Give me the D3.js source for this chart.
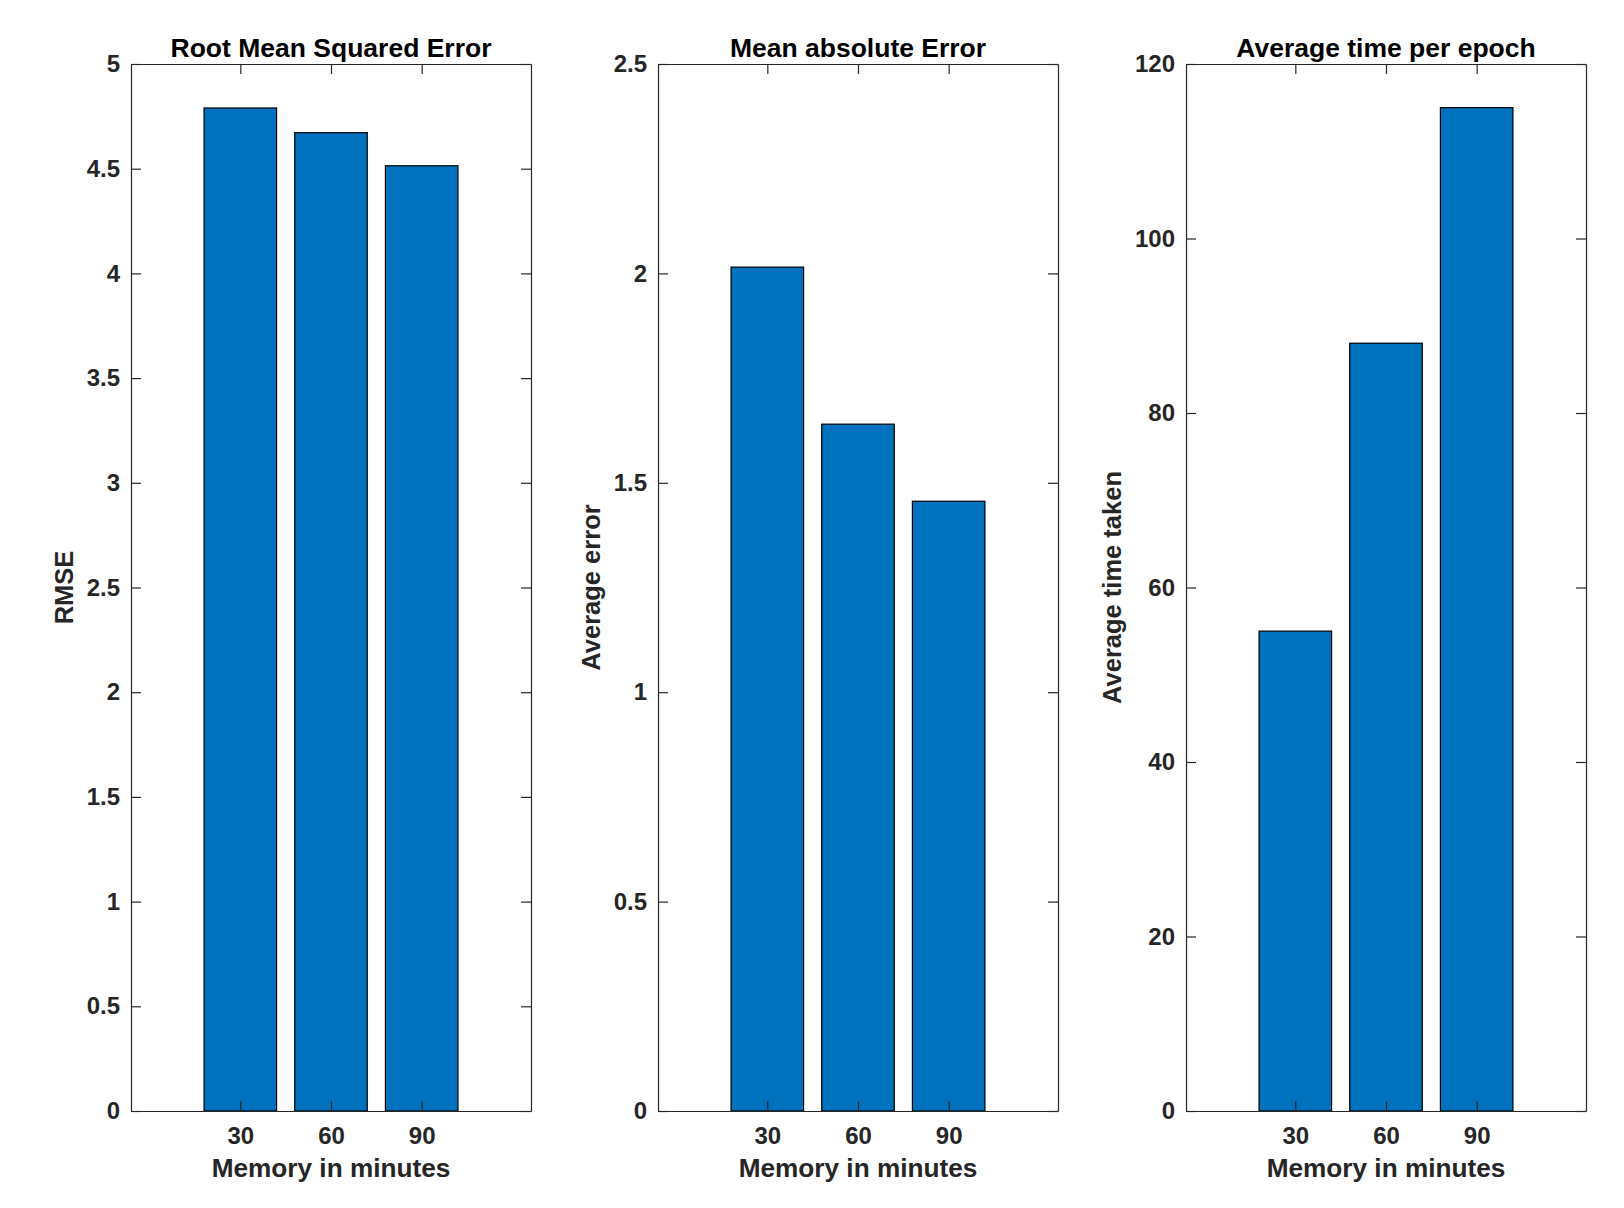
<!DOCTYPE html>
<html>
<head>
<meta charset="utf-8">
<script src="https://cdn.jsdelivr.net/npm/d3@7"></script>
<style>
  html, body { margin: 0; padding: 0; background: #fff; }
  svg text { font-family: "Liberation Sans", Arial, Helvetica, sans-serif; font-weight: bold; }
</style>
</head>
<body>
<div id="chart"></div>
<script>
// memory window (minutes) on the x axis
const categories = [30, 60, 90];

// values
const rmseValues = [4.79, 4.672, 4.514];
const maeValues = [2.015, 1.640, 1.456];
const timeValues = [55, 88, 115];

// y tick values per panel
const rmseTicks = [0, 0.5, 1, 1.5, 2, 2.5, 3, 3.5, 4, 4.5, 5];
const maeTicks = [0, 0.5, 1, 1.5, 2, 2.5];
const timeTicks = [0, 20, 40, 60, 80, 100, 120];

const titles = ["Root Mean Squared Error", "Mean absolute Error", "Average time per epoch"];
const yLabels = ["RMSE", "Average error", "Average time taken"];
const xLabel = "Memory in minutes";

const panels = [
  {values: rmseValues, ticks: rmseTicks, max: 5},
  {values: maeValues, ticks: maeTicks, max: 2.5},
  {values: timeValues, ticks: timeTicks, max: 120}
];

const W = 1624, H = 1208;
const lefts = [131, 658, 1186];
const pw = 400, plotTop = 64, ph = 1047;
const tick = 10;
const axisColor = "#262626";

const svg = d3.select("#chart")
    .append("svg")
    .attr("width", W)
    .attr("height", H);

panels.forEach(function(p, i) {
    const g = svg.append("g")
        .attr("transform", "translate(" + lefts[i] + "," + plotTop + ")");

    // x scale, with the same padding MATLAB left around the bars
    const x = d3.scaleLinear()
        .domain([-6.17, 126.17])
        .range([0, pw]);
    const y = d3.scaleLinear()
        .domain([0, p.max])
        .range([ph, 0]);

    const bw = 0.8 * (x(categories[1]) - x(categories[0]));

    // bars
    g.selectAll("rect.bar")
        .data(p.values)
        .enter()
        .append("rect")
        .attr("class", "bar")
        .attr("x", function(d, j) { return x(categories[j]) - bw / 2; })
        .attr("y", function(d) { return y(d); })
        .attr("width", bw)
        .attr("height", function(d) { return ph - y(d); })
        .style("fill", "#0072BD")
        .style("stroke", "#000")
        .style("stroke-width", 1.2);

    // axes, ticks pointing inward on all four sides
    const left = g.append("g")
        .call(d3.axisLeft(y).tickValues(p.ticks).tickSizeInner(-tick).tickSizeOuter(0)
            .tickPadding(11).tickFormat(function(d) { return String(d); }));
    g.append("g")
        .attr("transform", "translate(" + pw + ",0)")
        .call(d3.axisRight(y).tickValues(p.ticks).tickSizeInner(-tick).tickSizeOuter(0).tickFormat(""));
    g.append("g")
        .attr("transform", "translate(0," + ph + ")")
        .call(d3.axisBottom(x).tickValues(categories).tickSizeInner(-tick).tickSizeOuter(0).tickPadding(16).tickFormat(d3.format("d")));
    g.append("g")
        .call(d3.axisTop(x).tickValues(categories).tickSizeInner(-tick).tickSizeOuter(0).tickFormat(""));

    g.selectAll(".domain, .tick line")
        .attr("stroke", axisColor)
        .attr("stroke-width", 1.2);
    g.selectAll(".tick text")
        .attr("fill", axisColor)
        .style("font-size", "24px");

    // title
    g.append("text")
        .attr("text-anchor", "middle")
        .attr("x", pw / 2)
        .attr("y", 56.7 - plotTop)
        .attr("fill", "#000")
        .style("font-size", "26.5px")
        .text(titles[i]);

    // x label
    g.append("text")
        .attr("text-anchor", "middle")
        .attr("x", pw / 2)
        .attr("y", 1176.7 - plotTop)
        .attr("fill", axisColor)
        .style("font-size", "26.2px")
        .text(xLabel);

    // y label sits just left of the widest tick label
    let minX = 0;
    left.selectAll(".tick text").each(function() {
        const b = this.getBBox();
        minX = Math.min(minX, b.x);
    });
    g.append("text")
        .attr("text-anchor", "middle")
        .attr("transform", "translate(" + (minX - 14) + "," + (ph / 2) + ") rotate(-90)")
        .attr("fill", axisColor)
        .style("font-size", "25.5px")
        .text(yLabels[i]);
});
</script>
</body>
</html>
